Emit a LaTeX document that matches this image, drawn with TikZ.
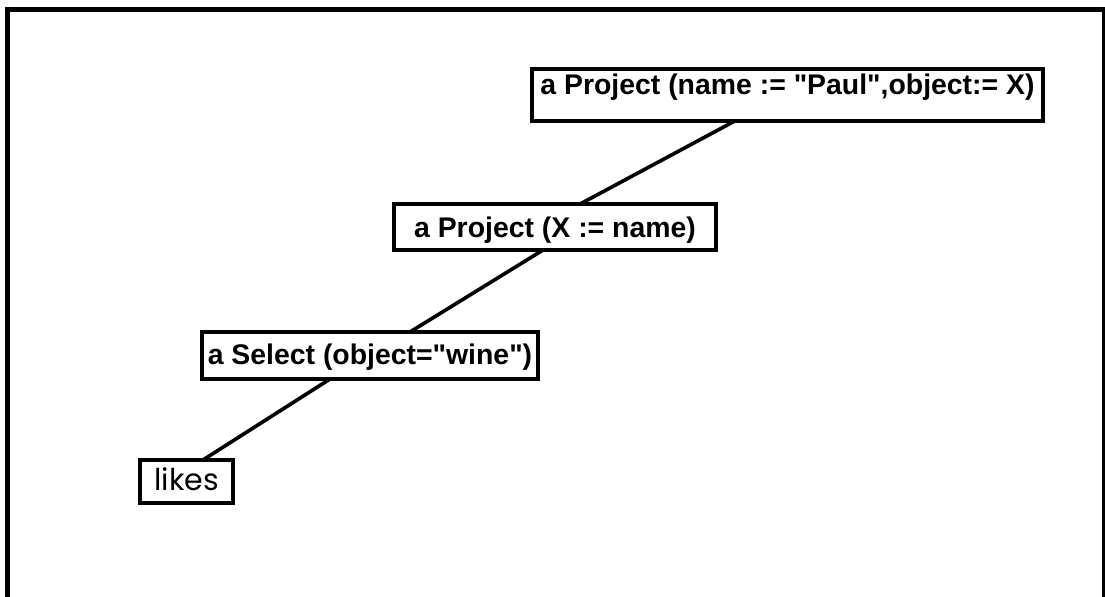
\documentclass[tikz,border=0pt]{standalone}
\usepackage{fontspec}
\setmainfont{Liberation Sans}
\newfontfamily\likesfont{Poppins}
\usetikzlibrary{calc}

\tikzset{
  opbox/.style={draw,line width=1.8pt,anchor=north west,outer sep=0pt,
    inner xsep=0pt,inner ysep=0pt,font=\bfseries\fontsize{14.2}{17}\selectfont},
  relbox/.style={opbox,font=\likesfont\fontsize{15}{17}\selectfont},
  link/.style={line width=1.8pt}
}

\begin{document}
\begin{tikzpicture}[x=0.5pt,y=-0.5pt]
\useasboundingbox (0,0) rectangle (1105,597);

\draw[line width=2.5pt] (7,597) -- (7,10) -- (1104,10) -- (1104,597);

\node[opbox,minimum width=255.5pt,text height=13pt,text depth=13pt] (proj1) at (532,69)
  {a Project (name := \textquotedbl Paul\textquotedbl,object:= X)};
\node[opbox,minimum width=161pt,text height=17pt,text depth=6pt] (proj2) at (394,204)
  {a Project (X := name)};
\node[opbox,minimum width=168pt,text height=16.5pt,text depth=7pt] (sel) at (202,332)
  {a Select (object=\textquotedbl wine\textquotedbl)};
\node[relbox,minimum width=46.5pt,text height=15.5pt,text depth=6pt] (likes) at (140,460)
  {likes};

\draw[link] ($(proj1.south west)!0.397!(proj1.south east)$) -- ($(proj2.north west)!0.578!(proj2.north east)$);
\draw[link] ($(proj2.south west)!0.463!(proj2.south east)$) -- ($(sel.north west)!0.619!(sel.north east)$);
\draw[link] ($(sel.south west)!0.381!(sel.south east)$) -- ($(likes.north west)!0.677!(likes.north east)$);

\end{tikzpicture}
\end{document}
